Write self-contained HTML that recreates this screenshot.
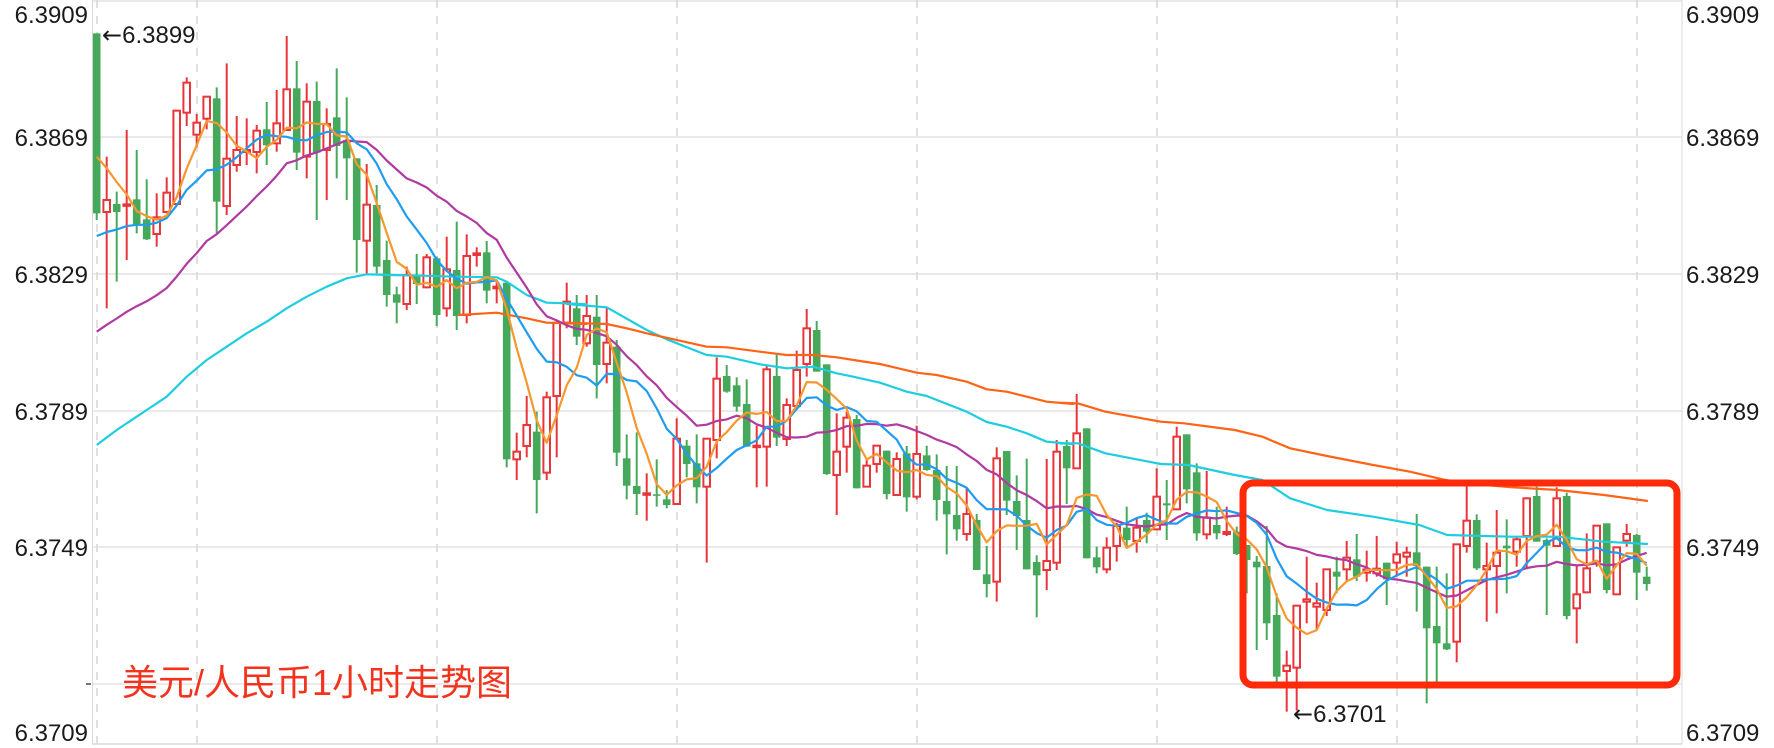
<!DOCTYPE html>
<html><head><meta charset="utf-8">
<style>
html,body{margin:0;padding:0;background:#fff;}
body{width:1774px;height:748px;overflow:hidden;position:relative;font-family:"Liberation Sans",Arial,sans-serif;}
svg{position:absolute;left:0;top:0;}
.lbl{font-size:24px;fill:#1a1a1a;font-family:"Liberation Sans",Arial,sans-serif;}
.arr{font-family:"DejaVu Sans",sans-serif;font-size:24px;}
.title{position:absolute;left:122px;top:654px;font-size:36px;color:#f2341f;font-family:"Liberation Sans","Noto Sans CJK SC",sans-serif;white-space:nowrap;}
</style></head><body>
<svg id="s" width="1774" height="748" viewBox="0 0 1774 748" xmlns="http://www.w3.org/2000/svg">
<g id="grid"></g>
<g id="cand"></g>
<g id="lines"></g>
<text class="lbl" x="88" y="23" text-anchor="end">6.3909</text>
<text class="lbl" x="88" y="146" text-anchor="end">6.3869</text>
<text class="lbl" x="88" y="283" text-anchor="end">6.3829</text>
<text class="lbl" x="88" y="420" text-anchor="end">6.3789</text>
<text class="lbl" x="88" y="556" text-anchor="end">6.3749</text>
<text class="lbl" x="88" y="741" text-anchor="end">6.3709</text>
<text class="lbl" x="1686" y="23">6.3909</text>
<text class="lbl" x="1686" y="146">6.3869</text>
<text class="lbl" x="1686" y="283">6.3829</text>
<text class="lbl" x="1686" y="420">6.3789</text>
<text class="lbl" x="1686" y="556">6.3749</text>
<text class="lbl" x="1686" y="741">6.3709</text>
<text class="lbl" x="102" y="43"><tspan class="arr">←</tspan>6.3899</text>
<text class="lbl" x="1293" y="722"><tspan class="arr">←</tspan>6.3701</text>
<rect x="1243" y="483" width="434" height="202" rx="10" ry="10" fill="none" stroke="#ff2a0a" stroke-width="7"/>
</svg>
<div class="title">美元/人民币1小时走势图</div>
<script>
var NS="http://www.w3.org/2000/svg";
function el(p,t,a){var e=document.createElementNS(NS,t);for(var k in a)e.setAttribute(k,a[k]);p.appendChild(e);return e;}
var grid=document.getElementById('grid');
[137,274,411,547,684].forEach(function(y){el(grid,'line',{x1:93,x2:1682,y1:y,y2:y,stroke:'#e4e4e4','stroke-width':1.5});});
el(grid,'line',{x1:93,x2:1682,y1:1,y2:1,stroke:'#e4e4e4','stroke-width':1.5});
[97,197,437,677,917,1157,1397,1637].forEach(function(x){el(grid,'line',{x1:x,x2:x,y1:0,y2:744,stroke:'#d6d6d6','stroke-width':1.5,'stroke-dasharray':'8,8'});});
el(grid,'line',{x1:92.5,x2:92.5,y1:0,y2:744,stroke:'#d8d8d8','stroke-width':1});
el(grid,'line',{x1:1682,x2:1682,y1:0,y2:744,stroke:'#d8d8d8','stroke-width':1});
el(grid,'line',{x1:92,x2:1682,y1:744,y2:744,stroke:'#d8d8d8','stroke-width':1.5});
el(grid,'line',{x1:86,x2:91,y1:684,y2:684,stroke:'#444','stroke-width':1.5});
var A=[[100,640,100,660,'g'],[600,636,470,925,'r'],[612,636,575,845,'g'],[613,617,390,780,'r'],[598,676,450,700,'g'],[658,718,538,720,'g'],[652,702,580,740,'r'],[578,636,532,640,'r'],[332,612,332,615,'r'],[248,338,232,378,'r'],[368,404,342,442,'r'],[290,356,290,388,'r'],[295,605,262,700,'g'],[476,618,190,645,'r'],[450,495,348,515,'r'],[450,456,355,495,'r'],[392,456,375,520,'r'],[388,436,306,495,'g'],[370,430,270,455,'r'],[268,390,108,390,'r'],[265,458,183,510,'g'],[305,470,250,535,'r'],[303,458,245,660,'g'],[372,450,325,600,'r'],[352,438,205,535,'g'],[420,475,292,600,'g'],[475,720,475,818,'g'],[614,722,492,822,'r'],[615,800,555,820,'g'],[780,885,722,920,'g'],[883,908,860,970,'g'],[825,912,800,930,'r'],[825,852,762,912,'g'],[772,862,762,865,'r'],[775,945,770,978,'g'],[808,925,710,950,'r'],[810,948,665,990,'g'],[768,945,703,970,'r'],[760,765,742,800,'r'],[757,872,723,910,'g'],[860,865,840,910,'r'],[848,1378,848,1402,'g'],[1355,1378,1298,1440,'r'],[1275,1338,1188,1372,'r'],[1295,1440,1235,1540,'g'],[1192,1418,1175,1440,'r'],[968,1188,965,1372,'r'],[905,968,848,985,'r']];
var B=[[325,410,285,435,'g'],[348,430,285,440,'r'],[350,495,285,595,'g'],[428,492,325,550,'r'],[440,758,420,798,'g'],[775,857,703,898,'g'],[858,882,697,945,'g'],[880,884,820,962,'r'],[883,887,778,920,'g'],[898,915,870,925,'g'],[716,912,655,912,'r'],[737,792,720,832,'g'],[790,862,703,910,'g'],[716,860,716,1088,'r'],[536,720,472,775,'r'],[528,575,495,578,'g'],[556,620,532,635,'g'],[612,740,538,740,'g'],[737,740,677,862,'r'],[508,740,495,860,'r'],[528,713,465,738,'g'],[615,717,595,738,'r'],[510,618,452,625,'r'],[385,492,327,530,'r'],[390,515,363,515,'g'],[493,822,493,825,'g'],[755,825,640,945,'r'],[653,740,635,818,'r'],[657,865,645,865,'g'],[797,860,778,860,'r'],[737,792,737,818,'r'],[752,882,752,898,'g'],[777,885,757,885,'r'],[760,892,738,935,'g'],[762,890,677,898,'r'],[766,810,737,812,'g'],[810,900,763,962,'g'],[903,943,798,1063,'g'],[945,988,798,1022,'g'],[942,1002,862,1022,'r'],[960,1110,942,1110,'g'],[1123,1152,1038,1192,'g'],[775,1145,742,1205,'r'],[753,902,753,945,'g'],[903,948,826,1050,'g'],[960,1108,776,1108,'g'],[1086,1126,1066,1252,'g'],[1083,1110,777,1170,'r']];
var C=[[215,548,180,570,'r'],[198,265,180,372,'g'],[160,265,42,265,'r'],[145,535,145,535,'g'],[532,562,500,580,'g'],[503,568,472,580,'r'],[438,498,428,545,'r'],[443,480,380,505,'g'],[443,483,412,518,'r'],[420,455,398,490,'g'],[350,448,265,450,'r'],[370,376,300,480,'g'],[170,388,140,390,'r'],[163,328,163,370,'g'],[277,460,250,482,'g'],[413,463,273,478,'r'],[435,460,380,478,'g'],[456,462,380,468,'r'],[455,522,440,525,'g'],[495,540,495,640,'g'],[545,562,528,810,'g'],[558,730,438,780,'g'],[705,890,640,915,'g'],[857,873,812,995,'r'],[677,863,677,992,'r'],[658,665,530,730,'r'],[670,680,608,748,'r'],[568,690,568,708,'r'],[575,590,530,640,'g'],[533,568,483,605,'r'],[538,590,462,603,'g'],[568,578,512,605,'r'],[566,580,468,590,'r'],[548,598,548,675,'g'],[523,548,485,590,'r'],[518,530,500,590,'r'],[517,558,402,695,'g'],[560,745,560,970,'g'],[738,790,560,915,'g'],[790,808,580,810,'g'],[493,785,493,847,'r'],[422,498,318,518,'r'],[420,565,403,570,'g'],[558,568,488,725,'r'],[518,558,390,700,'r'],[497,505,418,640,'g'],[478,515,470,560,'r'],[355,468,352,568,'r'],[348,485,320,485,'g'],[480,497,475,705,'g'],[355,498,322,500,'r'],[348,708,338,718,'g'],[643,685,558,790,'r'],[565,637,460,640,'r'],[437,545,437,560,'r'],[430,630,430,640,'g'],[502,643,502,645,'r'],[462,482,432,500,'r'],[465,578,462,660,'g'],[590,612,560,632,'g']];
var D=[];
A.forEach(function(c){D.push([c[0]/3,c[1]/3,c[2]/3,c[3]/3,c[4]]);});
B.forEach(function(c){D.push([200+c[0]/3,200+c[1]/3,200+c[2]/3,200+c[3]/3,c[4]]);});
C.forEach(function(c){D.push([380+c[0]/3,380+c[1]/3,380+c[2]/3,380+c[3]/3,c[4]]);});
var cg=document.getElementById('cand');
var RED='#e8353a',GRN='#46a85a';
var closes=[];
D.forEach(function(c,i){
  var x=96.7+10*i, col=c[4]=='r'?RED:GRN;
  var t=Math.min(c[0],c[1]), b=Math.max(c[0],c[1]); if(b-t<1.5)b=t+1.5;
  if(c[4]=='r'){
    el(cg,'line',{x1:x,x2:x,y1:c[2],y2:t,stroke:col,'stroke-width':2});
    el(cg,'line',{x1:x,x2:x,y1:b,y2:c[3],stroke:col,'stroke-width':2});
    el(cg,'rect',{x:x-3.3,y:t,width:6.6,height:b-t,fill:'#fff',stroke:col,'stroke-width':2});
    closes.push(t);
  }else{
    el(cg,'line',{x1:x,x2:x,y1:c[2],y2:c[3],stroke:col,'stroke-width':2});
    el(cg,'rect',{x:x-3.8,y:t,width:7.6,height:b-t,fill:col});
    closes.push(b);
  }
});
var lg=document.getElementById('lines');
function ma(n,m0,color){
  var v=(n*m0-closes[0])/(n-1);var arr=[];for(var k=0;k<n-1;k++)arr.push(v);arr=arr.concat(closes);
  var pts=[];for(var i=0;i<closes.length;i++){var s=0;for(var j=0;j<n;j++)s+=arr[i+j];pts.push((96.7+10*i).toFixed(1)+','+(s/n).toFixed(1));}
  el(lg,'polyline',{points:pts.join(' '),fill:'none',stroke:color,'stroke-width':2.2,'stroke-linejoin':'round'});
}
function trace(segs,color){
  var pts=[];
  segs[0].forEach(function(p){pts.push([90+p[0]/3,p[1]/3]);});
  segs[1].forEach(function(p){pts.push([560+p[0]/3,200+p[1]/3]);});
  segs[2].forEach(function(p){pts.push([1050+p[0]*0.4617,380+p[1]/3]);});
  el(lg,'polyline',{points:pts.map(function(p){return p[0].toFixed(1)+','+p[1].toFixed(1);}).join(' '),fill:'none',stroke:color,'stroke-width':2.2,'stroke-linejoin':'round'});
}
trace([[[20,1335],[80,1290],[170,1230],[230,1190],[290,1130],[350,1080],[410,1040],[470,1000],[530,965],[590,925],[650,890],[710,860],[770,835],[830,823],[900,825],[1000,827],[1100,830],[1220,832],[1250,845],[1310,885],[1370,908],[1430,910],[1490,913]],
[[20,312],[140,322],[260,390],[320,418],[440,465],[500,470],[600,493],[680,505],[760,500],[830,520],[880,530],[960,548],[1040,575],[1100,588],[1220,635],[1280,666],[1340,680],[1400,700],[1460,725],[1540,732]],
[[20,190],[60,190],[120,220],[240,252],[300,255],[400,285],[460,300],[520,355],[600,390],[700,410],[800,435],[860,465],[1000,470],[1100,470],[1200,485],[1295,492]]],'#1fcde0');
trace([[[1105,945],[1220,938],[1310,955],[1370,968],[1490,972]],
[[20,368],[140,372],[200,385],[260,400],[440,440],[500,442],[600,455],[680,465],[760,465],[830,472],[900,483],[960,492],[1070,518],[1130,525],[1220,545],[1280,568],[1340,575],[1460,605],[1540,612]],
[[20,68],[60,70],[120,95],[240,125],[290,130],[400,150],[460,170],[520,205],[600,228],[700,255],[780,275],[850,298],[900,310],[1000,322],[1100,330],[1200,345],[1295,363]]],'#ff6416');
ma(20,331.7,'#b03a9f');
ma(10,236,'#1f9bf0');
ma(5,156.7,'#f5982f');
</script>
</body></html>
